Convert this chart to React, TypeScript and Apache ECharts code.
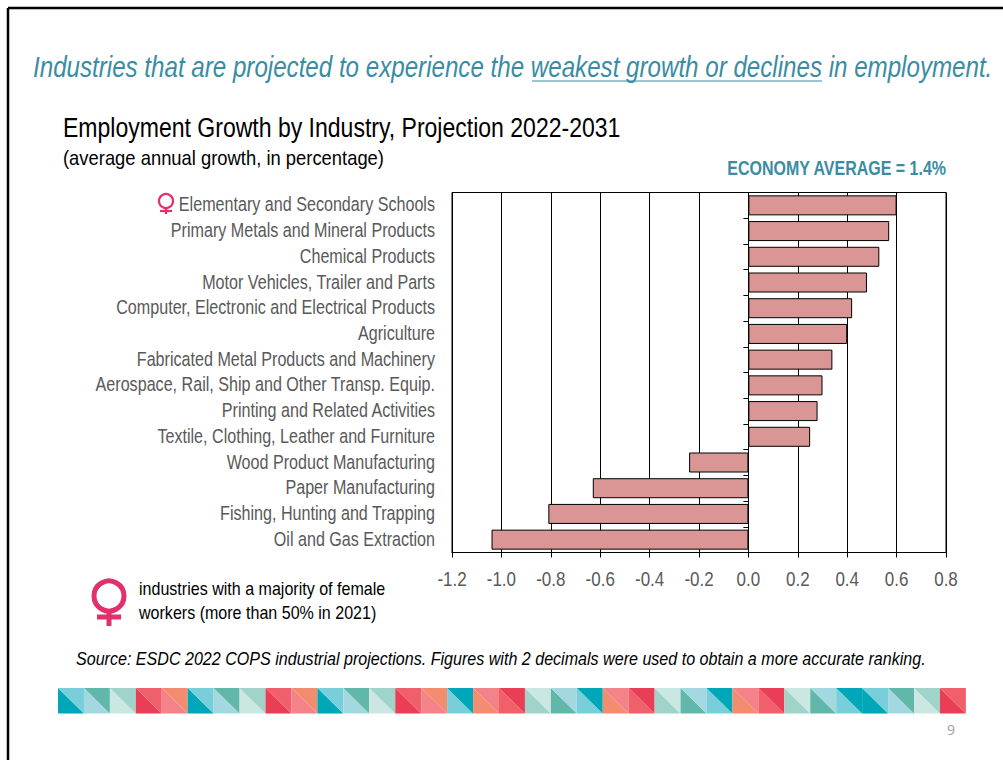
import React, { useEffect, useRef } from "react";
import * as echarts from "echarts";

const categories = [
  "Elementary and Secondary Schools",
  "Primary Metals and Mineral Products",
  "Chemical Products",
  "Motor Vehicles, Trailer and Parts",
  "Computer, Electronic and Electrical Products",
  "Agriculture",
  "Fabricated Metal Products and Machinery",
  "Aerospace, Rail, Ship and Other Transp. Equip.",
  "Printing and Related Activities",
  "Textile, Clothing, Leather and Furniture",
  "Wood Product Manufacturing",
  "Paper Manufacturing",
  "Fishing, Hunting and Trapping",
  "Oil and Gas Extraction",
];
const growth = [0.6, 0.57, 0.53, 0.48, 0.42, 0.4, 0.34, 0.3, 0.28, 0.25, -0.24, -0.63, -0.81, -1.04];
const xTicks = [-1.2, -1.0, -0.8, -0.6, -0.4, -0.2, 0.0, 0.2, 0.4, 0.6, 0.8];

const dark = "#00A7B9", light = "#78CFD9", pale = "#A3D8E0", green = "#62B7AB",
  mint = "#A0D4CB", pmint = "#CBE7E1", red = "#E93E55", coral = "#F0606A",
  pink = "#F48289", orange = "#F48C70";
const stripCells: string[][] = [
  [dark, light], [pale, green], [pmint, mint], [red, coral], [pink, orange],
  [dark, light], [pale, green], [pmint, mint], [red, coral], [pink, orange],
  [dark, light], [pale, green], [pmint, mint], [red, coral], [pink, orange],
  [light, dark], [orange, pink], [coral, red], [mint, pmint], [green, pale],
  [light, dark], [orange, pink], [coral, red], [mint, pmint], [green, pale],
  [light, dark], [orange, pink], [coral, red], [mint, pmint], [green, pale],
  [light, dark], [dark, light], [pale, green], [pmint, mint], [red, coral],
];

const FONT = "'Liberation Sans', Arial, sans-serif";
const TEAL = "#3A8CA3";
const FEMALE = "#E2306C";
const GREY = "#595959";

function femaleIcon(cx: number, cy: number, r: number, sw: number, stemEnd: number, barY: number, barHalf: number) {
  const style = { stroke: FEMALE, lineWidth: sw, fill: "none" };
  return [
    { type: "circle", shape: { cx, cy, r }, style },
    { type: "line", shape: { x1: cx, y1: cy + r, x2: cx, y2: stemEnd }, style },
    { type: "line", shape: { x1: cx - barHalf, y1: barY, x2: cx + barHalf, y2: barY }, style },
  ];
}

function text(x: number, y: number, t: string, fontSize: number, fill: string, scaleX: number, extra: any = {}) {
  return {
    type: "text", x, y, scaleX,
    style: { text: t, fontSize, fill, fontFamily: FONT, textVerticalAlign: "middle", ...extra },
  };
}

export default function App() {
  const ref = useRef<HTMLDivElement>(null);
  useEffect(() => {
    const chart = echarts.init(ref.current!, undefined, { renderer: "svg" });
    const stripX = 58, stripY = 688, cw = 25.94, ch = 25.5;
    const strip: any[] = [];
    stripCells.forEach((c, i) => {
      const x = stripX + i * cw;
      strip.push({ type: "polygon", shape: { points: [[x, stripY], [x, stripY + ch], [x + cw, stripY + ch]] }, style: { fill: c[0] } });
      strip.push({ type: "polygon", shape: { points: [[x, stripY], [x + cw, stripY], [x + cw, stripY + ch]] }, style: { fill: c[1] } });
    });
    chart.setOption({
      animation: false,
      backgroundColor: "#fff",
      grid: { left: 452, right: 57, top: 192.5, bottom: 207.5, outerBoundsMode: "none", show: true, borderColor: "#000", borderWidth: 1, backgroundColor: "transparent" },
      xAxis: {
        type: "value", min: -1.2, max: 0.8, interval: 0.2,
        axisLine: { show: true, lineStyle: { color: "#000" } },
        axisTick: { show: true, length: 5, lineStyle: { color: "#000" } },
        splitLine: { show: true, lineStyle: { color: "#000", width: 1 } },
        axisLabel: { show: false },
      },
      yAxis: {
        type: "category", data: categories, inverse: true,
        axisLine: { show: true, onZero: true, lineStyle: { color: "#000" } },
        axisTick: { show: true, length: 5, lineStyle: { color: "#000" } },
        splitLine: { show: false },
        axisLabel: { show: false },
      },
      series: [{
        type: "bar", data: growth, barWidth: 20,
        itemStyle: { color: "#D99694", borderColor: "#000", borderWidth: 1 },
      }],
    });
    // Tick labels are placed through the axes' own scales; graphic text allows the narrow look of the reference.
    const catLabels = categories.map((c) =>
      text(435, (chart.convertToPixel({ yAxisIndex: 0 }, c) as number) - 0.5, c, 19.5, GREY, 0.827, { textAlign: "right" }));
    const valLabels = xTicks.map((v) =>
      text(chart.convertToPixel({ xAxisIndex: 0 }, v) as number, 579, v.toFixed(1), 19.5, GREY, 0.87, { textAlign: "center" }));
    chart.setOption({
      graphic: [
        { type: "line", shape: { x1: 8, y1: 8, x2: 1003, y2: 8 }, style: { stroke: "#000", lineWidth: 2.5 } },
        { type: "line", shape: { x1: 8, y1: 8, x2: 8, y2: 760 }, style: { stroke: "#000", lineWidth: 2.5 } },
        text(33, 67, "Industries that are projected to experience the weakest growth or declines in employment.", 30, TEAL, 0.805, { fontStyle: "italic" }),
        { type: "line", shape: { x1: 532, y1: 81, x2: 822, y2: 81 }, style: { stroke: TEAL, lineWidth: 1.2 } },
        text(63, 127, "Employment Growth by Industry, Projection 2022-2031", 27, "#000", 0.853),
        text(63, 158, "(average annual growth, in percentage)", 20, "#000", 0.92),
        text(946, 168, "ECONOMY AVERAGE = 1.4%", 19.5, TEAL, 0.82, { fontWeight: "bold", textAlign: "right" }),
        text(139, 589, "industries with a majority of female", 17.5, "#000", 0.918),
        text(139, 613, "workers (more than 50% in 2021)", 17.5, "#000", 0.918),
        text(76, 659, "Source: ESDC 2022 COPS industrial projections. Figures with 2 decimals were used to obtain a more accurate ranking.", 17.5, "#000", 0.919, { fontStyle: "italic" }),
        { type: "text", x: 951, y: 729, style: { text: "9", fontSize: 14, fill: "#A0A0A0", fontFamily: "'Open Sans', sans-serif", textAlign: "center", textVerticalAlign: "middle" } },
        ...catLabels,
        ...valLabels,
        ...femaleIcon(166, 201, 7, 2.2, 214, 211, 6),
        ...femaleIcon(109, 596, 15, 5, 626, 617, 12),
        ...strip,
      ],
    });
    return () => chart.dispose();
  }, []);
  return <div ref={ref} style={{ position: "absolute", left: 0, top: 0, width: 1003, height: 760 }} />;
}
